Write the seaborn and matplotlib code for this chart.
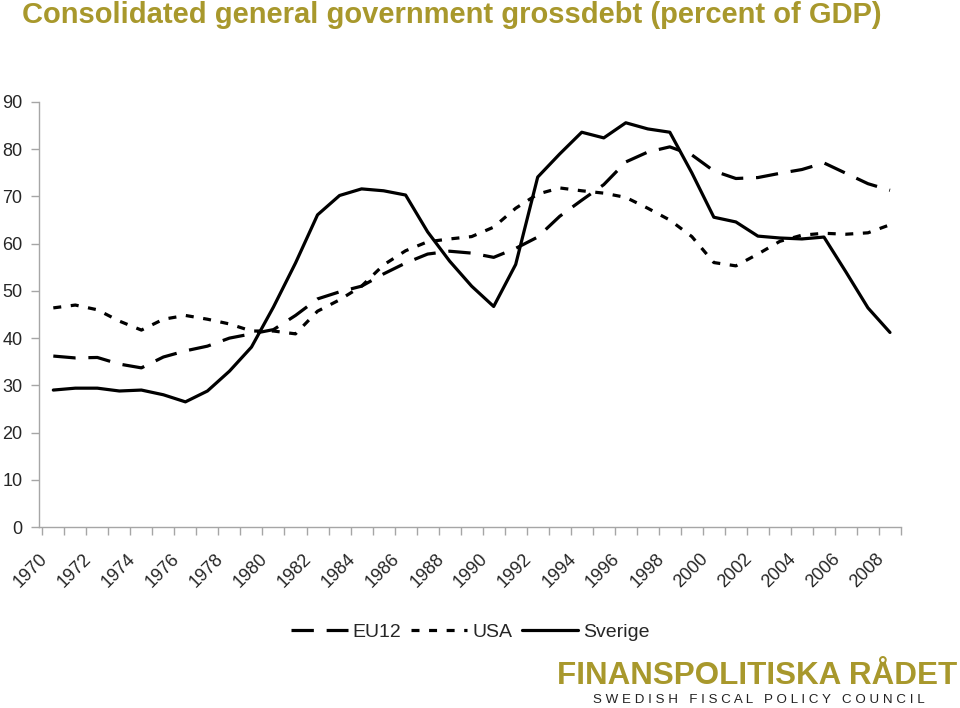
import matplotlib
matplotlib.use("Agg")
import matplotlib.pyplot as plt
import numpy as np
import pandas as pd
import seaborn as sns

# --- data ------------------------------------------------------------------
years = list(range(1970, 2009))

eu12 = [36.2, 35.8, 35.9, 34.5, 33.7, 36.0, 37.3, 38.3, 40.0, 40.9,
        41.8, 44.8, 48.3, 49.8, 51.0, 53.6, 55.9, 57.8, 58.4, 58.0,
        57.1, 59.0, 61.4, 65.8, 69.2, 72.5, 77.3, 79.4, 80.5, 78.8,
        75.4, 73.8, 74.0, 74.9, 75.7, 77.1, 74.9, 72.7, 71.3]

usa = [46.4, 47.0, 46.0, 43.6, 41.7, 44.0, 44.8, 44.0, 43.0, 41.5,
       41.5, 40.9, 45.7, 48.1, 51.0, 55.5, 58.5, 60.4, 61.0, 61.5,
       63.5, 67.5, 70.5, 71.8, 71.2, 70.7, 69.8, 67.5, 65.0, 61.5,
       56.0, 55.3, 57.8, 60.5, 61.8, 62.2, 62.0, 62.3, 64.0]

sverige = [29.0, 29.4, 29.4, 28.8, 29.0, 28.0, 26.5, 28.8, 33.0, 38.1,
           46.6, 55.9, 66.1, 70.2, 71.6, 71.2, 70.3, 62.5, 56.3, 51.0,
           46.7, 55.6, 74.1, 79.0, 83.6, 82.4, 85.6, 84.3, 83.6, 75.0,
           65.6, 64.6, 61.6, 61.2, 61.0, 61.4, 54.0, 46.4, 41.2]

series_names = ["EU12", "USA", "Sverige"]
y_ticks = list(range(0, 100, 10))
label_years = list(range(1970, 2009, 2))
x_labels = [str(y) for y in label_years]

title_text = "Consolidated general government grossdebt (percent of GDP)"
logo_text = "FINANSPOLITISKA RÅDET"
logo_sub = "SWEDISH FISCAL POLICY COUNCIL"

# --- styling -----------------------------------------------------------------
sns.set_style("white")
plt.rcParams["font.family"] = ["Liberation Sans", "DejaVu Sans"]

gold = "#a8982c"
axis_grey = "#a6a6a6"

df = pd.DataFrame({
    "year": years * 3,
    "debt": eu12 + usa + sverige,
    "country": ["EU12"] * len(years) + ["USA"] * len(years) + ["Sverige"] * len(years),
})

fig = plt.figure(figsize=(9.6, 7.08), dpi=100)
ax = fig.add_axes([39 / 960, 1 - 527 / 708, (901 - 39) / 960, (527 - 102) / 708])

dash_map = {"EU12": (7, 4), "USA": (2.5, 3), "Sverige": ""}
sns.lineplot(
    data=df, x="year", y="debt", style="country",
    style_order=series_names, dashes=dash_map,
    color="black", linewidth=2.3, ax=ax, legend=True,
)

ax.set_xlim(1969.5, 2008.5)
ax.set_ylim(0, 90)
ax.set_xlabel("")
ax.set_ylabel("")

# y axis
ax.set_yticks(y_ticks)
ax.tick_params(axis="y", direction="out", length=6, width=1, color=axis_grey,
               labelsize=13, pad=6, left=True)

# x axis: rotated labels every other year (label ends sit left of the
# category centre, as in the original), tick marks between categories
ax.xaxis.remove_overlapping_locs = False
ax.set_xticks([y - 0.65 for y in label_years])
ax.set_xticklabels(x_labels, rotation=45, ha="right", rotation_mode="anchor")
ax.set_xticks(np.arange(1969.5, 2009, 1.0), minor=True)
ax.tick_params(axis="x", which="major", length=0, labelsize=13, pad=17, bottom=True)
ax.tick_params(axis="x", which="minor", direction="out", length=6, width=1,
               color=axis_grey, bottom=True)

for side in ["top", "right"]:
    ax.spines[side].set_visible(False)
for side in ["left", "bottom"]:
    ax.spines[side].set_color(axis_grey)
    ax.spines[side].set_linewidth(1)

# legend below the plot
handles, labels = ax.get_legend_handles_labels()
ax.get_legend().remove()
for h in handles:
    h.set_linewidth(2.3)
    h.set_color("black")
fig.legend(handles, labels, loc="center", bbox_to_anchor=(0.490, 1 - 632 / 708),
           ncol=3, frameon=False, fontsize=14, handlelength=2.9,
           handletextpad=0.25, columnspacing=0.5)

# title and logo
fig.text(22 / 960, 1 - 1 / 708, title_text, ha="left", va="top",
         fontsize=21, fontweight="bold", color=gold)
fig.text(957 / 960, 1 - 684 / 708, logo_text, ha="right", va="baseline",
         fontsize=22.6, fontweight="bold", color=gold)
fig.text(925 / 960, 1 - 703 / 708, "   ".join(" ".join(w) for w in logo_sub.split()),
         ha="right", va="baseline", fontsize=9.6, color="#222222")

fig.savefig("out.png", dpi=100)
